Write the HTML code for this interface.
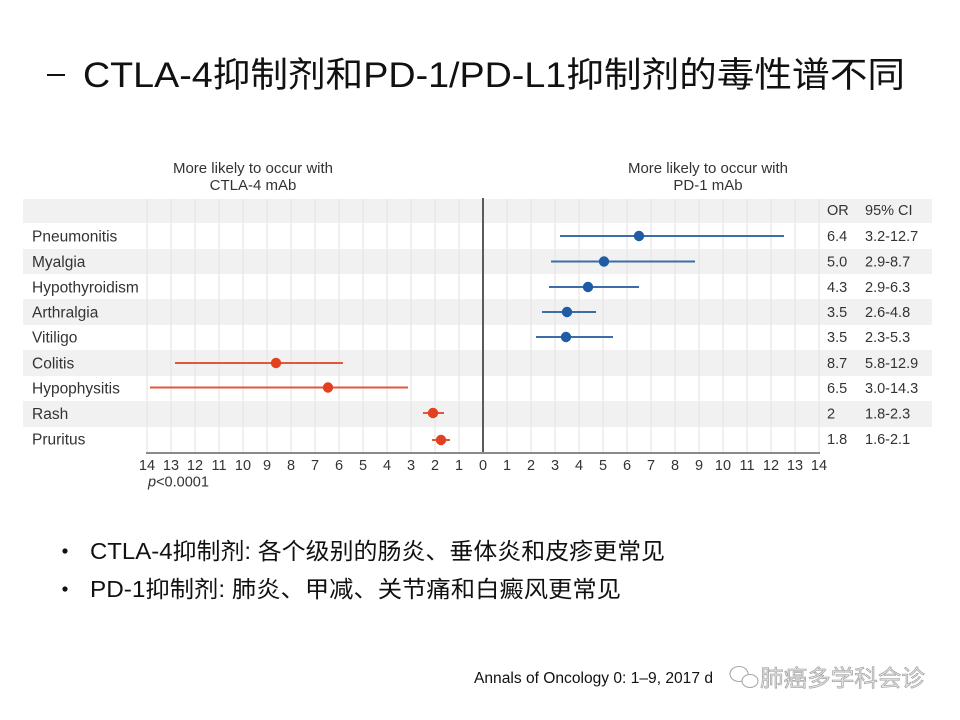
<!DOCTYPE html>
<html><head><meta charset="utf-8"><style>
html,body{margin:0;padding:0;background:#fff;}
svg{display:block;}
</style></head><body>
<svg width="960" height="720" viewBox="0 0 960 720" xmlns="http://www.w3.org/2000/svg">
<rect width="960" height="720" fill="#fff"/>
<!-- title -->
<rect x="47" y="74" width="18" height="2" fill="#111"/>
<text x="83" y="87" font-family="Liberation Sans, Noto Sans CJK SC, sans-serif" font-size="35" fill="#111" textLength="822" lengthAdjust="spacingAndGlyphs">CTLA-4抑制剂和PD-1/PD-L1抑制剂的毒性谱不同</text>

<!-- headers -->
<g font-family="Liberation Sans, sans-serif" font-size="15" fill="#333" text-anchor="middle">
<text x="253" y="173">More likely to occur with</text>
<text x="253" y="190">CTLA-4 mAb</text>
<text x="708" y="173">More likely to occur with</text>
<text x="708" y="190">PD-1 mAb</text>
</g>

<!-- bands -->
<g fill="#f1f1f1">
<rect x="23" y="199" width="909" height="24"/>
<rect x="23" y="249" width="909" height="25"/>
<rect x="23" y="299" width="909" height="26"/>
<rect x="23" y="350" width="909" height="26"/>
<rect x="23" y="401" width="909" height="26"/>
</g>

<!-- grid -->
<g stroke="#e2e2e2" stroke-width="1">
<line x1="147" y1="199" x2="147" y2="453"/><line x1="171" y1="199" x2="171" y2="453"/><line x1="195" y1="199" x2="195" y2="453"/><line x1="219" y1="199" x2="219" y2="453"/><line x1="243" y1="199" x2="243" y2="453"/><line x1="267" y1="199" x2="267" y2="453"/><line x1="291" y1="199" x2="291" y2="453"/><line x1="315" y1="199" x2="315" y2="453"/><line x1="339" y1="199" x2="339" y2="453"/><line x1="363" y1="199" x2="363" y2="453"/><line x1="387" y1="199" x2="387" y2="453"/><line x1="411" y1="199" x2="411" y2="453"/><line x1="435" y1="199" x2="435" y2="453"/><line x1="459" y1="199" x2="459" y2="453"/>
<line x1="507" y1="199" x2="507" y2="453"/><line x1="531" y1="199" x2="531" y2="453"/><line x1="555" y1="199" x2="555" y2="453"/><line x1="579" y1="199" x2="579" y2="453"/><line x1="603" y1="199" x2="603" y2="453"/><line x1="627" y1="199" x2="627" y2="453"/><line x1="651" y1="199" x2="651" y2="453"/><line x1="675" y1="199" x2="675" y2="453"/><line x1="699" y1="199" x2="699" y2="453"/><line x1="723" y1="199" x2="723" y2="453"/><line x1="747" y1="199" x2="747" y2="453"/><line x1="771" y1="199" x2="771" y2="453"/><line x1="795" y1="199" x2="795" y2="453"/><line x1="819" y1="199" x2="819" y2="453"/>
</g>
<line x1="483" y1="198" x2="483" y2="454" stroke="#5a5a5a" stroke-width="2"/>
<line x1="146" y1="453" x2="820" y2="453" stroke="#8a8a8a" stroke-width="2"/>

<!-- row labels -->
<g font-family="Liberation Sans, sans-serif" font-size="15.5" fill="#333">
<text x="32" y="241.5">Pneumonitis</text>
<text x="32" y="267">Myalgia</text>
<text x="32" y="292.5">Hypothyroidism</text>
<text x="32" y="317.5">Arthralgia</text>
<text x="32" y="342.5">Vitiligo</text>
<text x="32" y="368.5">Colitis</text>
<text x="32" y="393.5">Hypophysitis</text>
<text x="32" y="419">Rash</text>
<text x="32" y="444.5">Pruritus</text>
</g>

<!-- OR / CI -->
<g font-family="Liberation Sans, sans-serif" font-size="14.5" fill="#333">
<text x="827" y="215">OR</text><text x="865" y="215">95% CI</text>
<text x="827" y="241">6.4</text><text x="865" y="241">3.2-12.7</text>
<text x="827" y="266.5">5.0</text><text x="865" y="266.5">2.9-8.7</text>
<text x="827" y="292">4.3</text><text x="865" y="292">2.9-6.3</text>
<text x="827" y="317">3.5</text><text x="865" y="317">2.6-4.8</text>
<text x="827" y="342">3.5</text><text x="865" y="342">2.3-5.3</text>
<text x="827" y="368">8.7</text><text x="865" y="368">5.8-12.9</text>
<text x="827" y="393">6.5</text><text x="865" y="393">3.0-14.3</text>
<text x="827" y="418.5">2</text><text x="865" y="418.5">1.8-2.3</text>
<text x="827" y="444">1.8</text><text x="865" y="444">1.6-2.1</text>
</g>

<!-- series blue -->
<g stroke="#3b6ea8" stroke-width="2">
<line x1="560" y1="236" x2="784" y2="236"/>
<line x1="551" y1="261.5" x2="695" y2="261.5"/>
<line x1="549" y1="287" x2="639" y2="287"/>
<line x1="542" y1="312" x2="596" y2="312"/>
<line x1="536" y1="337" x2="613" y2="337"/>
</g>
<g fill="#1f5ca6">
<circle cx="639" cy="236" r="5.2"/>
<circle cx="604" cy="261.5" r="5.2"/>
<circle cx="588" cy="287" r="5.2"/>
<circle cx="567" cy="312" r="5.2"/>
<circle cx="566" cy="337" r="5.2"/>
</g>
<!-- series red -->
<g stroke="#e0573a" stroke-width="2">
<line x1="175" y1="363" x2="343" y2="363"/>
<line x1="150" y1="387.5" x2="408" y2="387.5"/>
<line x1="423" y1="413" x2="444" y2="413"/>
<line x1="432" y1="440" x2="450" y2="440"/>
</g>
<g fill="#e2401f">
<circle cx="276" cy="363" r="5.2"/>
<circle cx="328" cy="387.5" r="5.2"/>
<circle cx="433" cy="413" r="5.2"/>
<circle cx="441" cy="440" r="5.2"/>
</g>

<!-- tick labels -->
<g font-family="Liberation Sans, sans-serif" font-size="14.5" fill="#333" text-anchor="middle">
<text x="147" y="470">14</text><text x="171" y="470">13</text><text x="195" y="470">12</text><text x="219" y="470">11</text><text x="243" y="470">10</text><text x="267" y="470">9</text><text x="291" y="470">8</text><text x="315" y="470">7</text><text x="339" y="470">6</text><text x="363" y="470">5</text><text x="387" y="470">4</text><text x="411" y="470">3</text><text x="435" y="470">2</text><text x="459" y="470">1</text><text x="483" y="470">0</text>
<text x="507" y="470">1</text><text x="531" y="470">2</text><text x="555" y="470">3</text><text x="579" y="470">4</text><text x="603" y="470">5</text><text x="627" y="470">6</text><text x="651" y="470">7</text><text x="675" y="470">8</text><text x="699" y="470">9</text><text x="723" y="470">10</text><text x="747" y="470">11</text><text x="771" y="470">12</text><text x="795" y="470">13</text><text x="819" y="470">14</text>
</g>
<text x="148" y="486.5" font-family="Liberation Sans, sans-serif" font-size="14.5" fill="#333"><tspan font-style="italic">p</tspan>&lt;0.0001</text>

<!-- bullets -->
<circle cx="65" cy="551" r="2.6" fill="#111"/>
<circle cx="65" cy="589" r="2.6" fill="#111"/>
<g font-family="Liberation Sans, Noto Sans CJK SC, sans-serif" font-size="23" fill="#111">
<text x="90" y="559" textLength="575" lengthAdjust="spacingAndGlyphs">CTLA-4抑制剂: 各个级别的肠炎、垂体炎和皮疹更常见</text>
<text x="90" y="597" textLength="531" lengthAdjust="spacingAndGlyphs">PD-1抑制剂:  肺炎、甲减、关节痛和白癜风更常见</text>
</g>

<!-- citation -->
<text x="474" y="683" font-family="Liberation Sans, sans-serif" font-size="15.5" fill="#111" textLength="239" lengthAdjust="spacingAndGlyphs">Annals of Oncology 0: 1–9, 2017 d</text>
<!-- watermark -->
<g fill="none" stroke="#a8a8a8" stroke-width="1.1">
<ellipse cx="739" cy="674" rx="9" ry="7.5"/>
<ellipse cx="750" cy="681" rx="8" ry="6.5" fill="#fff"/>
</g>
<text x="760" y="686" font-family="Noto Sans CJK SC, sans-serif" font-size="23" fill="#e4e4e4" stroke="#9a9a9a" stroke-width="0.6" textLength="165" lengthAdjust="spacingAndGlyphs">肺癌多学科会诊</text>
</svg>
</body></html>
